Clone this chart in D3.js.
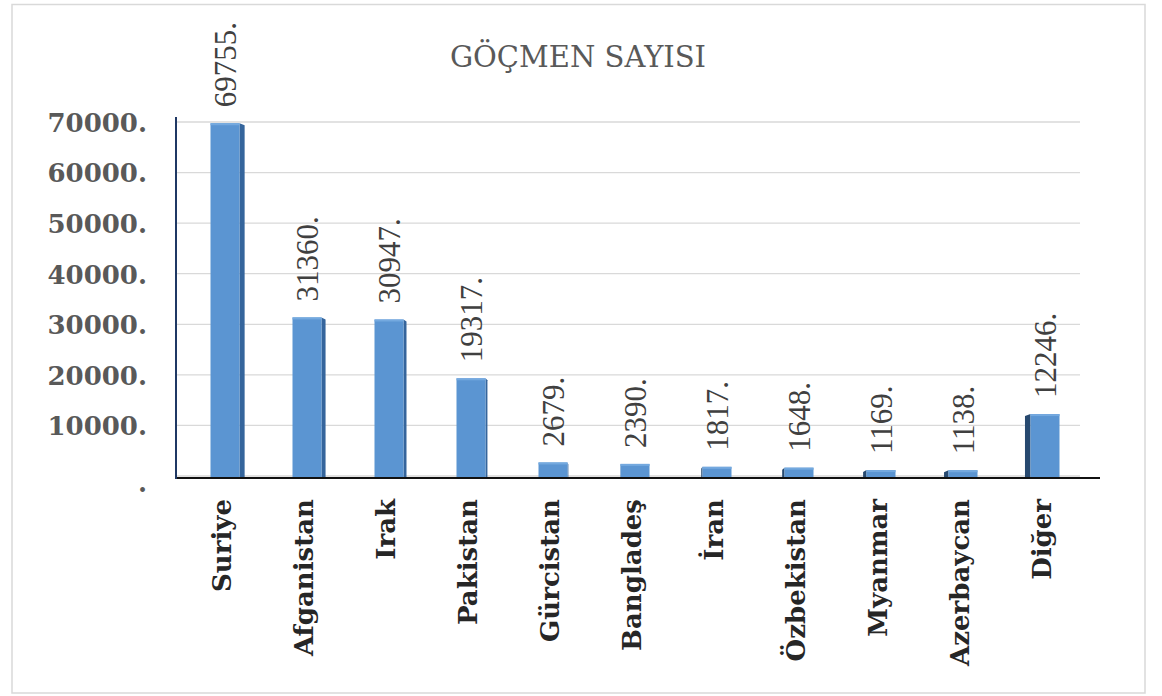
<!DOCTYPE html>
<html><head><meta charset="utf-8">
<script src="https://cdn.jsdelivr.net/npm/d3@7/dist/d3.min.js"></script>
<style>html,body{margin:0;padding:0;background:#fff;}svg{display:block;}</style>
</head><body>
<svg id="chart" width="1162" height="696"></svg>
<script>
const categories = ["Suriye","Afganistan","Irak","Pakistan","Gürcistan","Bangladeş","İran","Özbekistan","Myanmar","Azerbaycan","Diğer"];
const values = [69755,31360,30947,19317,2679,2390,1817,1648,1169,1138,12246];
const yTicks = [0,10000,20000,30000,40000,50000,60000,70000];
const title = "GÖÇMEN SAYISI";

const svg = d3.select("#chart");

// outer border
svg.append("rect").attr("x",12).attr("y",4.5).attr("width",1133).attr("height",688.5)
  .attr("fill","#fff").attr("stroke","#d9d9d9").attr("stroke-width",1.5);

const x = d3.scaleBand().domain(categories).range([184,1086]).paddingInner(0).paddingOuter(0);
const y = d3.scaleLinear().domain([0,70000]).range([476,122]);
const barW = 29;
const vanish = 620;

// gridlines
svg.append("g").selectAll("line").data(yTicks).join("line")
  .attr("x1",177).attr("x2",1080)
  .attr("y1",d=>y(d)).attr("y2",d=>y(d))
  .attr("stroke","#d9d9d9").attr("stroke-width",1.3);

// y axis labels
const yAxis = d3.axisLeft(y).tickValues(yTicks).tickSize(0).tickPadding(0)
  .tickFormat(d => d === 0 ? "." : d + ".");
const gy = svg.append("g").attr("transform","translate(147,0)").call(yAxis);
gy.select(".domain").remove();
gy.selectAll("text")
  .attr("font-family","'DejaVu Serif', serif").attr("font-weight","bold")
  .attr("font-size",26).attr("fill","#595959").attr("dy","0.36em");
gy.selectAll(".tick").filter(d=>d===0).select("text").attr("dy","0.6em");

// bars (pseudo-3D)
const bars = svg.append("g");
const data = categories.map((c,i)=>({c, v: values[i]}));
data.forEach(d=>{
  const cx = x(d.c) + x.bandwidth()/2;
  const side = (vanish - cx) * 0.013; // >0: right side visible
  const x0 = cx - barW/2, x1 = cx + barW/2;
  const top = y(d.v), bot = y(0)+1;
  if (side > 0) {
    bars.append("polygon")
      .attr("points", [[x1, top],[x1+side, top+2],[x1+side, bot],[x1, bot]].map(p=>p.join(",")).join(" "))
      .attr("fill","#35659c");
  } else {
    bars.append("polygon")
      .attr("points", [[x0+side, top+2],[x0, top],[x0, bot],[x0+side, bot]].map(p=>p.join(",")).join(" "))
      .attr("fill","#27496f");
  }
  bars.append("rect").attr("x",x0).attr("y",top).attr("width",barW).attr("height",bot-top)
    .attr("fill","#5b95d2");
  bars.append("rect").attr("x",x0).attr("y",top).attr("width",barW).attr("height",2)
    .attr("fill","#74a9df");
});

// axes lines
svg.append("line").attr("x1",176).attr("x2",1100).attr("y1",478).attr("y2",478)
  .attr("stroke","#111").attr("stroke-width",2.2);
svg.append("line").attr("x1",176).attr("x2",176).attr("y1",117).attr("y2",479)
  .attr("stroke","#1f3864").attr("stroke-width",2);

// value labels
svg.append("g").selectAll("text").data(data).join("text")
  .attr("transform", d => `translate(${x(d.c)+x.bandwidth()/2},${y(d.v)-16}) rotate(-90)`)
  .attr("dy","0.35em")
  .attr("text-anchor","start")
  .attr("font-family","Liberation Serif, Times New Roman, serif").attr("font-size",31)
  .attr("fill","#404040")
  .text(d => d.v + ".");

// category labels
svg.append("g").selectAll("text").data(categories).join("text")
  .attr("transform", d => `translate(${x(d)+x.bandwidth()/2-3},499) rotate(-90)`)
  .attr("dy","0.36em")
  .attr("text-anchor","end")
  .attr("font-family","'DejaVu Serif', serif").attr("font-weight","bold").attr("font-size",26)
  .attr("fill","#262626")
  .text(d => d);

// title
svg.append("text").attr("x",578).attr("y",67).attr("text-anchor","middle")
  .attr("font-family","'DejaVu Serif', serif").attr("font-size",29)
  .attr("fill","#595959").text(title);
</script>
</body></html>
